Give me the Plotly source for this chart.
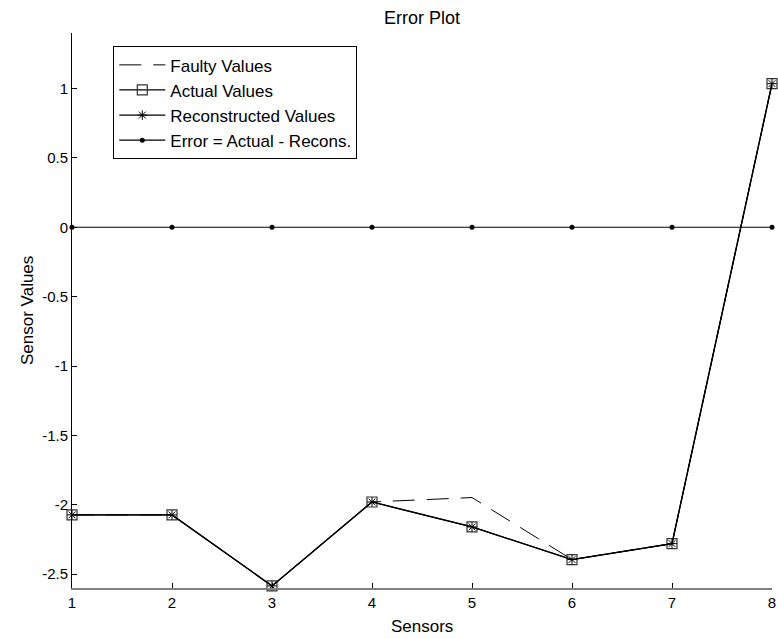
import plotly.graph_objects as go

sensors = [1, 2, 3, 4, 5, 6, 7, 8]
faulty_values = [-2.073, -2.073, -2.585, -1.98, -1.948, -2.395, -2.28, 1.035]
actual_values = [-2.073, -2.073, -2.585, -1.98, -2.16, -2.395, -2.28, 1.035]
reconstructed_values = [-2.073, -2.073, -2.585, -1.98, -2.16, -2.395, -2.28, 1.035]
error_values = [0, 0, 0, 0, 0, 0, 0, 0]

y_tickvals = [-2.5, -2, -1.5, -1, -0.5, 0, 0.5, 1]
y_ticktext = ["-2.5", "-2", "-1.5", "-1", "-0.5", "0", "0.5", "1"]

FONT = "Liberation Sans, Arial, sans-serif"

fig = go.Figure()
fig.add_trace(go.Scatter(
    x=sensors, y=faulty_values, name="Faulty Values", mode="lines",
    line=dict(color="black", width=1, dash="22px,12px"), cliponaxis=False))
fig.add_trace(go.Scatter(
    x=sensors, y=actual_values, name="Actual Values", mode="lines+markers",
    line=dict(color="black", width=1.3),
    marker=dict(symbol="square-open", size=10, color="#333333", line=dict(width=1.2)),
    cliponaxis=False))
fig.add_trace(go.Scatter(
    x=sensors, y=reconstructed_values, name="Reconstructed Values", mode="lines+markers",
    line=dict(color="black", width=1.3),
    marker=dict(symbol="asterisk-open", size=8, color="black", line=dict(width=1, color="black")),
    cliponaxis=False))
fig.add_trace(go.Scatter(
    x=sensors, y=error_values, name="Error = Actual - Recons.", mode="lines+markers",
    line=dict(color="black", width=1.2),
    marker=dict(symbol="circle", size=5, color="black"), cliponaxis=False))

fig.update_layout(
    width=778, height=639,
    margin=dict(l=72, r=6, t=33, b=51, autoexpand=False),
    paper_bgcolor="white", plot_bgcolor="white",
    font=dict(family=FONT, size=15, color="black"),
    title=dict(text="Error Plot", xref="paper", x=0.5, xanchor="center",
               y=0.973, yanchor="middle",
               font=dict(family=FONT, size=18, color="black")),
    showlegend=True,
    legend=dict(x=0.059, y=0.976, xanchor="left", yanchor="top",
                bgcolor="white", bordercolor="black", borderwidth=1,
                font=dict(family=FONT, size=17, color="black"),
                tracegroupgap=0, itemwidth=46),
    xaxis=dict(range=[1, 8], tickvals=sensors, ticktext=[str(s) for s in sensors],
               ticks="inside", ticklen=5, tickcolor="black", showgrid=False, zeroline=False,
               showline=True, linecolor="#808080", linewidth=2, automargin=False,
               tickfont=dict(family=FONT, size=15)),
    yaxis=dict(range=[-2.6, 1.4], tickvals=y_tickvals, ticktext=y_ticktext,
               ticks="inside", ticklen=5, tickcolor="black", showgrid=False, zeroline=False,
               showline=True, linecolor="black", linewidth=1, automargin=False,
               tickfont=dict(family=FONT, size=15)),
    annotations=[
        dict(text="Sensors", xref="paper", yref="paper", x=0.5, y=-0.0685,
             xanchor="center", yanchor="middle", showarrow=False,
             font=dict(family=FONT, size=17, color="black")),
        dict(text="Sensor Values", xref="paper", yref="paper", x=-0.0636, y=0.5,
             xanchor="center", yanchor="middle", showarrow=False, textangle=-90,
             font=dict(family=FONT, size=17, color="black")),
    ],
)

fig.write_html("out.html",
               config={"displayModeBar": False},
               post_script="document.body.style.margin='0';document.body.style.overflow='hidden';")
